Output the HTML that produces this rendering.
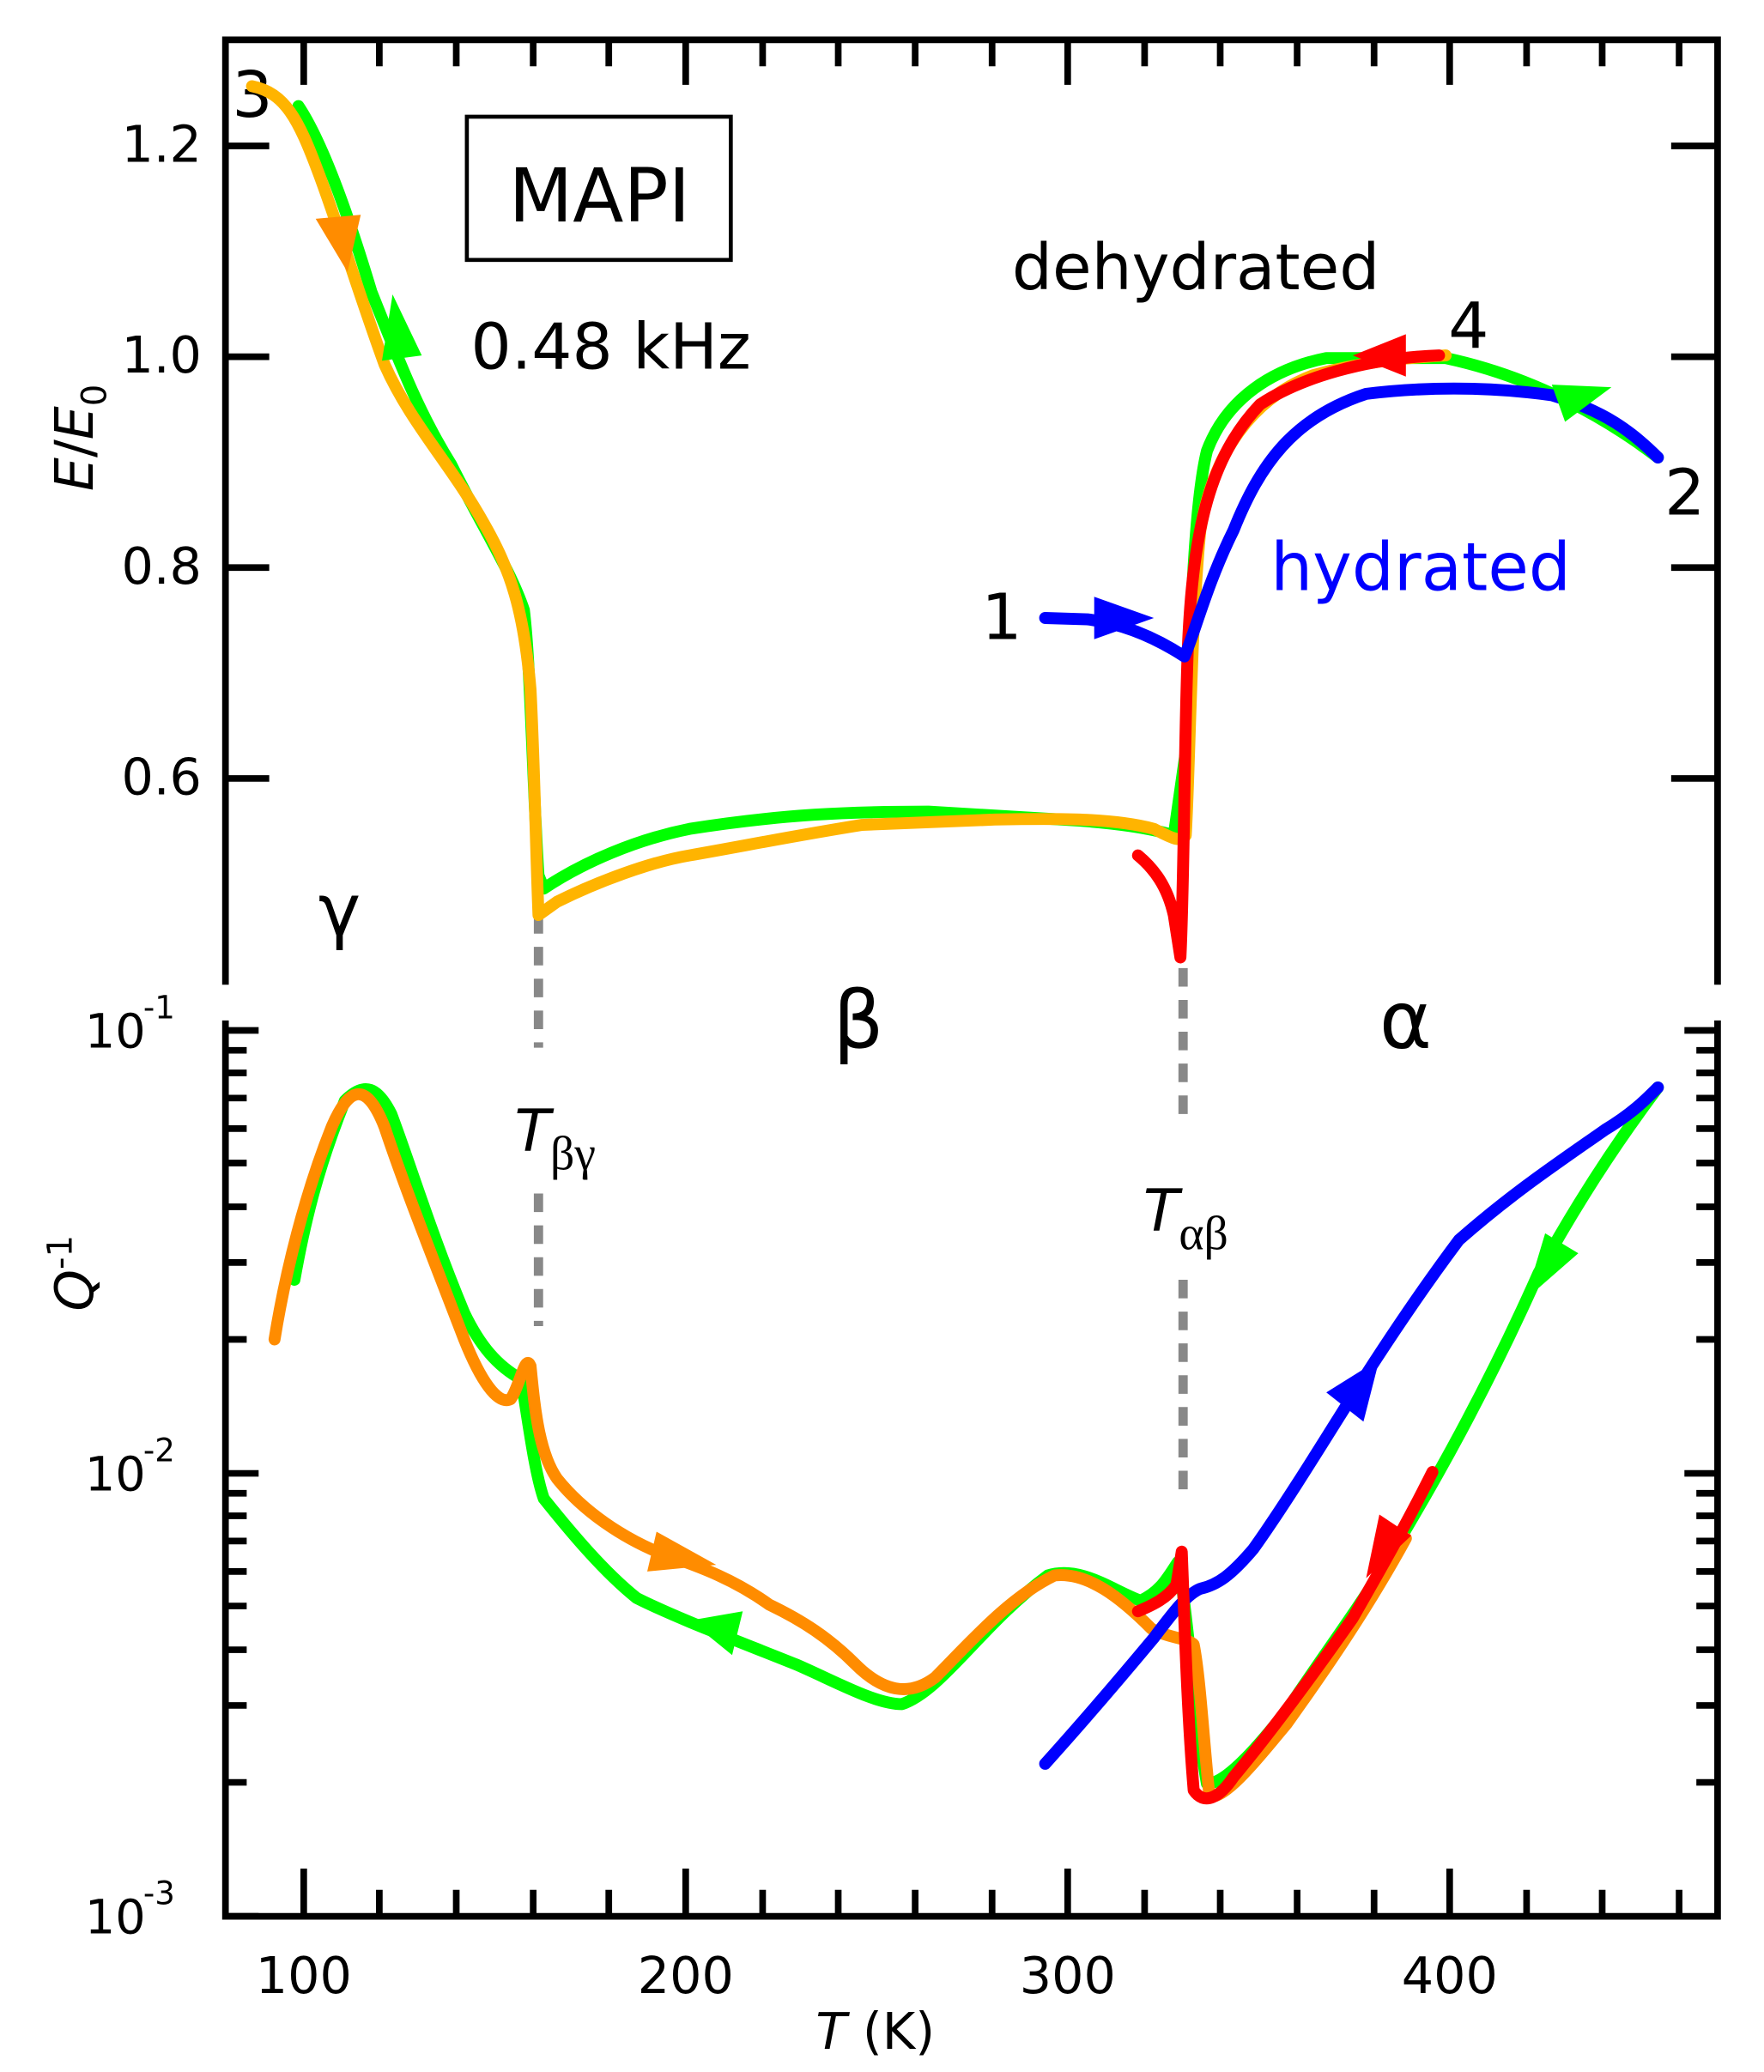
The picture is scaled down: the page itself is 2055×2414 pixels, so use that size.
<!DOCTYPE html>
<html><head><meta charset="utf-8"><style>
html,body{margin:0;padding:0;background:#fff}
svg{display:block}
text{font-family:"DejaVu Sans","Liberation Sans",sans-serif}
</style></head><body>
<svg width="2055" height="2414" viewBox="0 0 1330 1562.4" preserveAspectRatio="none" xmlns="http://www.w3.org/2000/svg">
<g stroke="#000" stroke-width="5" fill="none" stroke-linecap="square">
<path d="M170,740 L170,30 L1295,30 L1295,740"/>
<path d="M170,772 L170,1445 L1295,1445 L1295,772"/>
</g>
<g stroke="#000" stroke-width="5" fill="none">
<path d="M229,30v34 M517,30v34 M805,30v34 M1093,30v34
M286,30v20 M344,30v20 M402,30v20 M459,30v20 M575,30v20 M632,30v20 M690,30v20 M748,30v20 M863,30v20 M920,30v20 M978,30v20 M1036,30v20 M1151,30v20 M1208,30v20 M1266,30v20"/>
<path d="M229,1445v-36 M517,1445v-36 M805,1445v-36 M1093,1445v-36
M286,1445v-20 M344,1445v-20 M402,1445v-20 M459,1445v-20 M575,1445v-20 M632,1445v-20 M690,1445v-20 M748,1445v-20 M863,1445v-20 M920,1445v-20 M978,1445v-20 M1036,1445v-20 M1151,1445v-20 M1208,1445v-20 M1266,1445v-20"/>
<path d="M170,110h33 M170,269h33 M170,428h33 M170,587h33 M1295,110h-35 M1295,269h-35 M1295,428h-35 M1295,587h-35"/>
<path d="M170,777h25 M170,1111h25 M170,1445h25 M1295,777h-25 M1295,1111h-25"/>
<path d="M170,1344h16 M170,1286h16 M170,1244h16 M170,1211h16 M170,1185h16 M170,1162h16 M170,1143h16 M170,1126h16
M170,1010h16 M170,952h16 M170,910h16 M170,877h16 M170,851h16 M170,828h16 M170,809h16 M170,792h16
M1295,1344h-16 M1295,1286h-16 M1295,1244h-16 M1295,1211h-16 M1295,1185h-16 M1295,1162h-16 M1295,1143h-16 M1295,1126h-16
M1295,1010h-16 M1295,952h-16 M1295,910h-16 M1295,877h-16 M1295,851h-16 M1295,828h-16 M1295,809h-16 M1295,792h-16"/>
</g>
<g font-size="38" fill="#000" text-anchor="end">
<text x="152" y="122">1.2</text><text x="152" y="281">1.0</text><text x="152" y="440">0.8</text><text x="152" y="599">0.6</text>
</g>
<g font-size="36" fill="#000">
<text x="64" y="790">10</text><text x="108" y="768" font-size="24">-1</text>
<text x="64" y="1124">10</text><text x="108" y="1102" font-size="24">-2</text>
<text x="64" y="1458">10</text><text x="108" y="1436" font-size="24">-3</text>
</g>
<g font-size="38" fill="#000" text-anchor="middle">
<text x="229" y="1503">100</text><text x="517" y="1503">200</text><text x="805" y="1503">300</text><text x="1093" y="1503">400</text>
</g>
<text x="660" y="1545" font-size="38" text-anchor="middle"><tspan font-style="italic">T</tspan> (K)</text>
<text transform="translate(70,330) rotate(-90)" font-size="40" text-anchor="middle"><tspan font-style="italic">E</tspan>/<tspan font-style="italic">E</tspan><tspan font-size="26" dy="10">0</tspan></text>
<text transform="translate(70,960) rotate(-90)" font-size="40" text-anchor="middle"><tspan font-style="italic">Q</tspan><tspan font-size="26" dy="-16">-1</tspan></text>

<g stroke="#888" stroke-width="7" stroke-dasharray="14,10" fill="none">
<path d="M406,690V790 M406,900V1000"/>
<path d="M892,730V845 M892,965V1130"/>
</g>

<rect x="352" y="88" width="199" height="108" fill="none" stroke="#000" stroke-width="3"/>
<text x="452" y="167" font-size="56" text-anchor="middle">MAPI</text>
<text x="355" y="278" font-size="48">0.48 kHz</text>
<text x="763" y="218" font-size="48">dehydrated</text>
<text x="958" y="445" font-size="50" fill="#0000ff">hydrated</text>
<text x="740" y="482" font-size="48">1</text>
<text x="1255" y="388" font-size="48">2</text>
<text x="175" y="88" font-size="48">3</text>
<text x="1092" y="262" font-size="48">4</text>
<text x="240" y="705" font-size="54" font-family="Liberation Serif,serif">γ</text>
<text x="628" y="790" font-size="60" font-family="Liberation Serif,serif">β</text>
<text x="1040" y="790" font-size="60" font-family="Liberation Serif,serif">α</text>
<text x="388" y="868" font-size="44" font-style="italic">T<tspan font-style="normal" font-size="36" dy="14" font-family="Liberation Serif,serif">βγ</tspan></text>
<text x="862" y="928" font-size="44" font-style="italic">T<tspan font-style="normal" font-size="36" dy="14" font-family="Liberation Serif,serif">αβ</tspan></text>

<g fill="none" stroke-width="9" stroke-linejoin="round" stroke-linecap="round">
<path stroke="#00ff00" d="M1250,345 C1215,318 1160,285 1090,270 L1000,270 C960,278 925,300 910,340 C900,380 897,480 895,560 L885,630 C870,625 840,620 800,618 L700,612 C640,612 590,614 520,625 C480,633 440,650 410,670 L406,660 C402,600 400,500 395,460 C385,430 365,400 340,350 C315,310 300,270 280,220 C265,170 245,110 225,80"/>
<path stroke="#ffb400" d="M190,65 C215,70 225,90 240,130 C255,170 270,220 290,275 C310,320 340,350 365,395 C385,430 395,460 400,520 C403,580 404,640 406,690 L420,680 C450,665 490,650 520,645 C560,638 600,630 650,622 L750,618 C800,617 840,617 870,625 C885,633 890,635 894,630 C897,580 898,470 905,400 C915,340 945,300 990,283 C1030,272 1060,270 1090,268"/>
<path stroke="#ff0000" d="M858,645 C870,655 880,668 885,690 L890,722 C893,660 893,540 896,480 C900,400 912,345 950,305 C980,285 1030,270 1085,268"/>
<path stroke="#0000ff" d="M788,466 L820,467 C845,470 870,480 893,495 C900,480 910,440 930,400 C950,350 975,315 1030,297 C1070,292 1120,291 1170,298 C1210,310 1230,325 1250,345"/>
<path stroke="#00ff00" d="M222,965 C230,920 240,880 260,830 C275,815 285,820 295,840 C310,880 325,930 350,990 C362,1015 375,1030 393,1040 C398,1070 403,1110 410,1130 C430,1155 455,1185 480,1205 C510,1220 550,1235 600,1255 C630,1268 660,1285 680,1285 C710,1275 740,1225 790,1188 C815,1180 840,1200 860,1207 C875,1200 880,1190 888,1178 C895,1210 900,1290 910,1345 C925,1345 950,1315 970,1290 C1000,1245 1030,1205 1050,1170 C1080,1120 1120,1050 1160,960 C1190,905 1220,860 1250,820"/>
<path stroke="#ff8c00" d="M207,1010 C215,960 230,900 250,850 C262,822 275,812 290,850 C305,895 325,945 350,1010 C362,1040 375,1060 385,1055 C392,1045 396,1020 400,1030 C403,1060 406,1095 420,1115 C440,1140 470,1160 500,1172 C530,1182 555,1192 580,1210 C605,1222 625,1235 645,1255 C665,1275 685,1280 705,1265 C730,1240 760,1205 795,1188 C820,1185 845,1205 868,1228 C880,1235 895,1235 900,1240 C905,1265 908,1320 912,1355 C925,1355 945,1330 970,1300 C995,1265 1030,1215 1060,1160"/>
<path stroke="#0000ff" d="M788,1330 C815,1300 845,1265 870,1235 C885,1215 895,1202 905,1198 C918,1195 928,1188 945,1168 C965,1140 990,1100 1010,1068 C1040,1020 1070,975 1100,935 C1140,900 1170,880 1210,852 C1230,840 1240,830 1250,820"/>
<path stroke="#ff0000" d="M858,1215 C870,1210 880,1205 887,1195 L891,1170 C893,1220 895,1290 900,1350 C908,1362 920,1355 930,1340 C955,1310 985,1270 1020,1220 C1040,1185 1060,1150 1080,1110"/>
</g>
<g stroke="none">
<polygon fill="#ff8c00" points="238,165 272,162 262,205"/>
<polygon fill="#00ff00" points="288,272 318,268 296,222"/>
<polygon fill="#00ff00" points="1215,292 1180,318 1170,290"/>
<polygon fill="#ff0000" points="1020,268 1060,252 1060,284"/>
<polygon fill="#0000ff" points="870,466 825,450 825,482"/>
<polygon fill="#ff8c00" points="540,1180 495,1155 488,1185"/>
<polygon fill="#00ff00" points="520,1222 560,1215 552,1248"/>
<polygon fill="#0000ff" points="1040,1025 1000,1050 1028,1072"/>
<polygon fill="#00ff00" points="1150,980 1165,930 1190,945"/>
<polygon fill="#ff0000" points="1030,1190 1040,1142 1064,1158"/>
</g>
</svg>
</body></html>
